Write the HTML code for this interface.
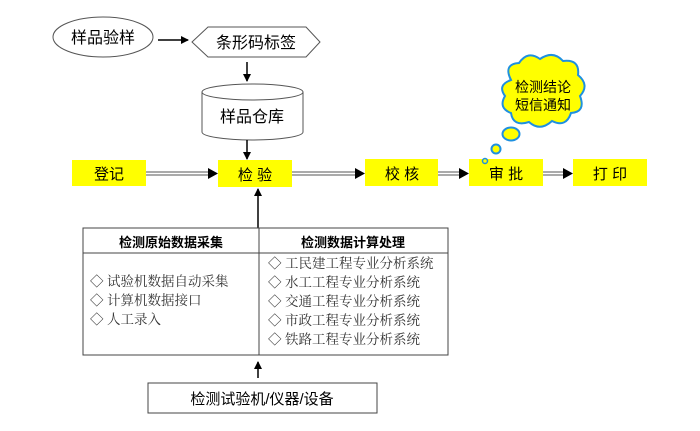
<!DOCTYPE html>
<html><head><meta charset="utf-8"><style>
body{margin:0;background:#fff;}
svg text{font-family:"Liberation Sans","Noto Sans CJK SC",sans-serif;}
.s{font-family:"Noto Serif CJK SC","Liberation Serif",serif !important;}
</style></head><body>
<svg width="700" height="426" viewBox="0 0 700 426" xmlns="http://www.w3.org/2000/svg">
<defs>
<marker id="a" markerWidth="8" markerHeight="8" refX="7" refY="4" orient="auto" markerUnits="userSpaceOnUse"><path d="M0,0 L8,4 L0,8z" fill="#000"/></marker>
</defs>
<ellipse cx="103" cy="37" rx="50" ry="20" fill="#fff" stroke="#555"/>
<text x="103" y="43" font-size="16" text-anchor="middle">样品验样</text>
<line x1="158" y1="40" x2="188" y2="40" stroke="#000" stroke-width="1.5" marker-end="url(#a)"/>
<polygon points="192,42 208,27 306,27 320,42 306,57 208,57" fill="#fff" stroke="#555"/>
<text x="256" y="48" font-size="16" text-anchor="middle">条形码标签</text>
<line x1="247" y1="62" x2="247" y2="81" stroke="#000" stroke-width="1.5" marker-end="url(#a)"/>
<path d="M202,92 L202,132 A50.5,8 0 0 0 303,132 L303,92" fill="#fff" stroke="#555"/>
<ellipse cx="252.5" cy="92" rx="50.5" ry="8" fill="#fff" stroke="#555"/>
<text x="252" y="122" font-size="16" text-anchor="middle">样品仓库</text>
<line x1="247" y1="140" x2="247" y2="159" stroke="#000" stroke-width="1.5" marker-end="url(#a)"/>
<g fill="#ffff00">
<rect x="72" y="160" width="74" height="26"/>
<rect x="218" y="160" width="74" height="27"/>
<rect x="365" y="159" width="73" height="27"/>
<rect x="469" y="159" width="74" height="27"/>
<rect x="573" y="159" width="74" height="27"/>
</g>
<g font-size="15" text-anchor="middle">
<text x="109" y="179">登记</text>
<text x="255" y="180">检 验</text>
<text x="402" y="179">校 核</text>
<text x="506" y="179">审 批</text>
<text x="610" y="179">打 印</text>
</g>
<g stroke="#555" stroke-width="1">
<line x1="146" y1="172" x2="210" y2="172"/><line x1="146" y1="175" x2="210" y2="175"/>
<line x1="292" y1="172" x2="357" y2="172"/><line x1="292" y1="175" x2="357" y2="175"/>
<line x1="438" y1="172" x2="461" y2="172"/><line x1="438" y1="175" x2="461" y2="175"/>
<line x1="543" y1="172" x2="565" y2="172"/><line x1="543" y1="175" x2="565" y2="175"/>
</g>
<g fill="#000">
<path d="M208,168 L218,173.5 L208,179z"/>
<path d="M355,168 L365,173.5 L355,179z"/>
<path d="M459,168 L469,173.5 L459,179z"/>
<path d="M563,168 L573,173.5 L563,179z"/>
</g>
<path d="M511,80 Q503,64 519,63 Q528,50 540,59 Q553,50 563,61 Q580,59 578,75 Q590,85 580,96 Q586,112 571,113 Q566,128 552,121 Q540,132 529,122 Q513,127 511,113 Q498,108 505,96 Q497,85 511,80z" fill="#ffff00" stroke="#1e90e0" stroke-width="2"/>
<text x="543" y="92" font-size="14" text-anchor="middle">检测结论</text>
<text x="543" y="110" font-size="14" text-anchor="middle">短信通知</text>
<ellipse cx="511" cy="134" rx="8.5" ry="6.5" fill="#ffff00" stroke="#1e90e0" stroke-width="2"/>
<circle cx="496" cy="149" r="4.5" fill="#ffff00" stroke="#1e90e0" stroke-width="2"/>
<circle cx="485" cy="161" r="2.5" fill="#ffff00" stroke="#1e90e0" stroke-width="1.5"/>
<line x1="258" y1="228" x2="258" y2="189" stroke="#000" stroke-width="1.5" marker-end="url(#a)"/>
<rect x="83" y="228" width="365" height="127" fill="#fff" stroke="#444"/>
<line x1="83" y1="253" x2="448" y2="253" stroke="#444"/>
<line x1="259" y1="228" x2="259" y2="355" stroke="#444"/>
<text x="171" y="247" font-size="13" font-weight="bold" text-anchor="middle">检测原始数据采集</text>
<text x="353" y="247" font-size="13" font-weight="bold" text-anchor="middle">检测数据计算处理</text>
<g font-size="13.5" fill="#333">
<text class="s" x="90" y="286">◇ 试验机数据自动采集</text>
<text class="s" x="90" y="305">◇ 计算机数据接口</text>
<text class="s" x="90" y="324">◇ 人工录入</text>
<text class="s" x="268" y="268">◇ 工民建工程专业分析系统</text>
<text class="s" x="268" y="287">◇ 水工工程专业分析系统</text>
<text class="s" x="268" y="306">◇ 交通工程专业分析系统</text>
<text class="s" x="268" y="325">◇ 市政工程专业分析系统</text>
<text class="s" x="268" y="344">◇ 铁路工程专业分析系统</text>
</g>
<line x1="258" y1="378" x2="258" y2="362" stroke="#000" stroke-width="1.5" marker-end="url(#a)"/>
<rect x="148" y="383" width="229" height="30" fill="#fff" stroke="#444"/>
<text x="262" y="404" font-size="15" text-anchor="middle">检测试验机/仪器/设备</text>
</svg>
</body></html>
